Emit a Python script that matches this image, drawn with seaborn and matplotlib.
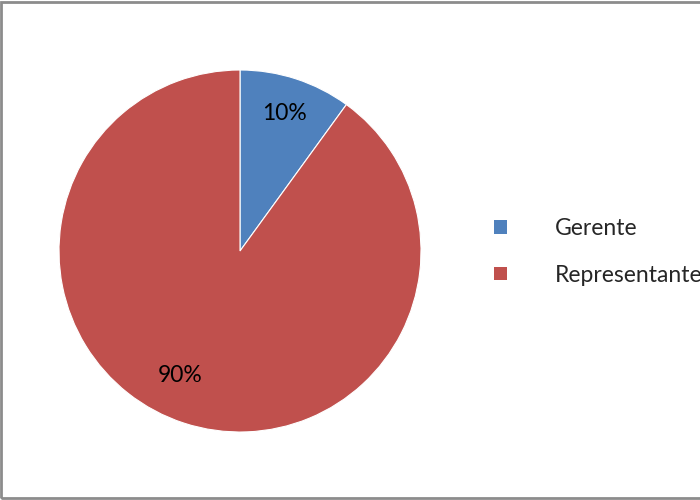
import matplotlib
matplotlib.use("Agg")
import matplotlib.pyplot as plt
import seaborn as sns
from matplotlib.patches import Rectangle

categories = ["Gerente", "Representante"]
values = [10, 90]
colors = ["#4F81BD", "#C0504D"]

sns.set_theme(style="white")
plt.rcParams['font.family'] = ['Lato', 'DejaVu Sans']
FS = 16.5

fig = plt.figure(figsize=(7, 5), dpi=100)
ax = fig.add_axes([59/700, 68/500, 362/700, 362/500])

wedges, texts, autotexts = ax.pie(
    values, colors=colors, startangle=90, counterclock=False,
    autopct=lambda p: f"{p:.0f}%", pctdistance=0.8,
    textprops=dict(fontsize=FS, color="black"),
    wedgeprops=dict(linewidth=0.8, edgecolor="white"),
)
autotexts[1].set_position((-0.33, -0.69))
ax.set_xlim(-1, 1)
ax.set_ylim(-1, 1)
ax.set_aspect("equal")
ax.axis("off")

handles = [Rectangle((0, 0), 1, 1, facecolor=c, edgecolor="none") for c in colors]
fig.legend(handles, categories, loc="center left", bbox_to_anchor=(0.693, 0.496),
           frameon=False, fontsize=FS, handlelength=0.55, handleheight=0.55,
           handletextpad=2.1, labelspacing=1.1, borderaxespad=0)

fig.add_artist(Rectangle((0.0015, 0.004), 1.2, 0.992, transform=fig.transFigure,
                         fill=False, edgecolor="#8c8c8c", linewidth=2, clip_on=False))

fig.savefig("out.png", dpi=100)
